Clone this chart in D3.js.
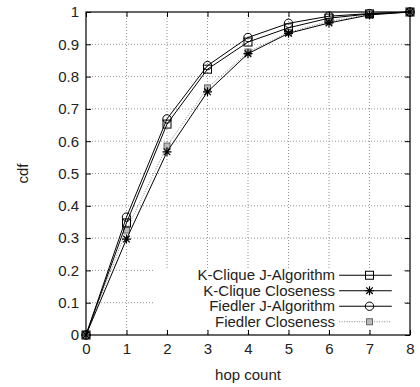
<!DOCTYPE html>
<html>
<head>
<meta charset="utf-8">
<script src="https://cdn.jsdelivr.net/npm/d3@7"></script>
<style>
  body { margin: 0; background: #fff; }
  svg { display: block; font-family: "Liberation Sans", Arial, sans-serif; }
</style>
</head>
<body>
<svg id="chart" width="420" height="387"></svg>
<script>
const hops = [0, 1, 2, 3, 4, 5, 6, 7, 8];
const kcliqueJ = [0, 0.347, 0.653, 0.823, 0.907, 0.951, 0.981, 0.994, 1];
const kcliqueClose = [0, 0.297, 0.567, 0.753, 0.871, 0.934, 0.966, 0.991, 1];
const fiedlerJ = [0, 0.365, 0.669, 0.834, 0.921, 0.965, 0.987, 0.995, 1];
const fiedlerClose = [0, 0.325, 0.585, 0.765, 0.876, 0.937, 0.971, 0.992, 1];
const yTicks = [0, 0.1, 0.2, 0.3, 0.4, 0.5, 0.6, 0.7, 0.8, 0.9, 1];

const series = [
  { name: "K-Clique J-Algorithm", values: kcliqueJ, marker: "square", color: "#000", dash: null },
  { name: "K-Clique Closeness", values: kcliqueClose, marker: "star", color: "#000", dash: null },
  { name: "Fiedler J-Algorithm", values: fiedlerJ, marker: "circle", color: "#000", dash: null },
  { name: "Fiedler Closeness", values: fiedlerClose, marker: "smallsquare", color: "#888", dash: "1,1.5" },
];

const FS = 15;
const margin = { top: 12, right: 10, bottom: 52, left: 86 };
const W = 420, H = 387;
const width = W - margin.left - margin.right;
const height = H - margin.top - margin.bottom;

const svg = d3.select("#chart");
const g = svg.append("g").attr("transform", `translate(${margin.left},${margin.top})`);

const x = d3.scaleLinear().domain([0, 8]).range([0, width]);
const y = d3.scaleLinear().domain([0, 1]).range([height, 0]);

// grid
g.append("g").selectAll("line").data(hops.slice(1, -1)).join("line")
  .attr("x1", (d) => x(d)).attr("x2", (d) => x(d))
  .attr("y1", 0).attr("y2", height)
  .attr("stroke", "#777").attr("stroke-width", 0.8).attr("stroke-dasharray", "1,2");
g.append("g").selectAll("line").data(yTicks.slice(1, -1)).join("line")
  .attr("x1", 0).attr("x2", width)
  .attr("y1", (d) => y(d)).attr("y2", (d) => y(d))
  .attr("stroke", "#777").attr("stroke-width", 0.8).attr("stroke-dasharray", "1,2");

// legend background (covers grid)
const legX = x(1.7), legY = y(0.205);
g.append("rect").attr("x", legX).attr("y", legY)
  .attr("width", x(7.8) - legX).attr("height", y(0.02) - legY)
  .attr("fill", "#fff");

// axes with mirrored ticks
const axB = g.append("g").attr("transform", `translate(0,${height})`)
  .call(d3.axisBottom(x).tickValues(hops).tickSize(-5).tickPadding(8).tickFormat(d3.format("d")));
const axL = g.append("g")
  .call(d3.axisLeft(y).tickValues(yTicks).tickSize(-5).tickPadding(7).tickFormat((d) => d === 0 || d === 1 ? d : d3.format(".1f")(d)));
const axT = g.append("g")
  .call(d3.axisTop(x).tickValues(hops).tickSize(-5).tickFormat(""));
const axR = g.append("g").attr("transform", `translate(${width},0)`)
  .call(d3.axisRight(y).tickValues(yTicks).tickSize(-5).tickFormat(""));
[axB, axL, axT, axR].forEach((a) => {
  a.select(".domain").remove();
  a.selectAll("line").attr("stroke", "#000");
  a.selectAll("text").attr("font-size", FS).attr("fill", "#222").attr("font-family", "Liberation Sans, Arial, sans-serif");
});
g.append("rect").attr("width", width).attr("height", height)
  .attr("fill", "none").attr("stroke", "#000").attr("stroke-width", 1.2);

const drawMarker = (sel, type, color) => {
  if (type === "square") {
    sel.append("rect").attr("x", -4).attr("y", -4).attr("width", 8).attr("height", 8)
      .attr("fill", "none").attr("stroke", color).attr("stroke-width", 1);
  } else if (type === "circle") {
    sel.append("circle").attr("r", 4.2).attr("fill", "none").attr("stroke", color).attr("stroke-width", 1);
  } else if (type === "star") {
    sel.append("path").attr("d", "M-4.5,0H4.5M0,-4.5V4.5M-3.3,-3.3L3.3,3.3M-3.3,3.3L3.3,-3.3")
      .attr("stroke", color).attr("stroke-width", 1.2);
  } else {
    sel.append("rect").attr("x", -3).attr("y", -3).attr("width", 6).attr("height", 6)
      .attr("fill", "#bbb").attr("stroke", "#666").attr("stroke-width", 1);
  }
};

const line = d3.line().x((d, i) => x(hops[i])).y((d) => y(d));

// draw closeness first so J-algorithm lines sit on top
[3, 1, 0, 2].forEach((k) => {
  const s = series[k];
  g.append("path").datum(s.values)
    .attr("fill", "none").attr("stroke", s.color).attr("stroke-width", 1)
    .attr("stroke-dasharray", s.dash).attr("d", line);
  g.append("g").selectAll("g").data(s.values).join("g")
    .attr("transform", (d, i) => `translate(${x(hops[i])},${y(d)})`)
    .each(function () { drawMarker(d3.select(this), s.marker, s.color); });
});

// legend
const leg = g.append("g");
series.forEach((s, i) => {
  const ly = y(0.185) + i * 15.5;
  leg.append("text").attr("x", x(6.15)).attr("y", ly).attr("dy", "0.35em")
    .attr("text-anchor", "end").attr("font-size", FS).attr("fill", "#222").text(s.name);
  leg.append("line").attr("x1", x(6.25)).attr("x2", x(7.55)).attr("y1", ly).attr("y2", ly)
    .attr("stroke", s.color).attr("stroke-width", 1).attr("stroke-dasharray", s.dash);
  const m = leg.append("g").attr("transform", `translate(${x(7)},${ly})`);
  drawMarker(m, s.marker, s.color);
});

// axis titles
svg.append("text").attr("x", margin.left + width / 2).attr("y", H - 7)
  .attr("text-anchor", "middle").attr("font-size", FS).attr("fill", "#222").text("hop count");
svg.append("text").attr("transform", `translate(28,${margin.top + height / 2}) rotate(-90)`)
  .attr("text-anchor", "middle").attr("font-size", FS).attr("fill", "#222").text("cdf");
</script>
</body>
</html>
